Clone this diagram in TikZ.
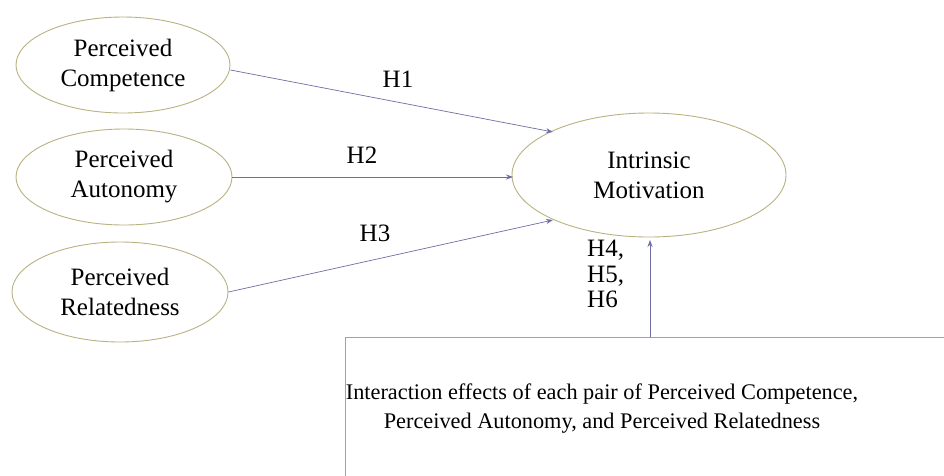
\documentclass[tikz,border=0pt]{standalone}
\usepackage{fontspec}
\setmainfont{Liberation Serif}
\usetikzlibrary{shapes.geometric,arrows.meta}
\definecolor{elline}{RGB}{185,178,130}
\definecolor{arrline}{RGB}{110,110,165}
\definecolor{boxline}{RGB}{165,165,140}
\tikzset{
  latent/.style={ellipse, draw=elline, line width=0.9pt, fill=white, inner sep=0pt, align=center, font=\fontsize{25}{30}\selectfont},
  path/.style={draw=arrline, line width=0.7pt, -{Stealth[length=7pt,width=5pt]}},
  hlab/.style={font=\fontsize{25}{26}\selectfont, inner sep=0pt},
}
\begin{document}
\begin{tikzpicture}[x=1pt,y=-1pt]
\useasboundingbox (0,0) rectangle (944,475);
\fill[white] (0,0) rectangle (944,475);
\node[latent, minimum width=214pt, minimum height=96pt] (pc) at (123,65) {Perceived\\Competence};
\node[latent, minimum width=216pt, minimum height=96pt] (pa) at (124,177) {Perceived\\Autonomy};
\node[latent, minimum width=216pt, minimum height=100pt] (pr) at (120,292) {Perceived\\Relatedness};
\node[latent, minimum width=274pt, minimum height=124pt] (im) at (649,175) {Intrinsic\\Motivation};
\begin{scope}
\clip (0,0) rectangle (944,475);
\draw[boxline, line width=0.9pt] (345,337) rectangle (960,490);
\end{scope}
\node[font=\fontsize{22.3}{29}\selectfont, align=center, inner sep=0pt] (box) at (602,409) {Interaction effects of each pair of Perceived Competence,\\Perceived Autonomy, and Perceived Relatedness};
\coordinate (boxtop) at (650,337);
\coordinate (t1) at (553,132);
\coordinate (t2) at (513,177);
\coordinate (t3) at (553,220);
\coordinate (t4) at (650,240);
\draw[path] (pc.east) ++(0,5) -- (t1);
\draw[path] (pa.east) -- (t2);
\draw[path] (pr.east) -- (t3);
\draw[path] (boxtop) -- (t4);
\node[hlab] (h1) at (398,79) {H1};
\node[hlab] (h2) at (362,155) {H2};
\node[hlab] (h3) at (375,233) {H3};
\node[hlab, align=left, anchor=north west, font=\fontsize{25}{25.5}\selectfont] (h4) at (587,240) {H4,\\H5,\\H6};
\end{tikzpicture}
\end{document}
